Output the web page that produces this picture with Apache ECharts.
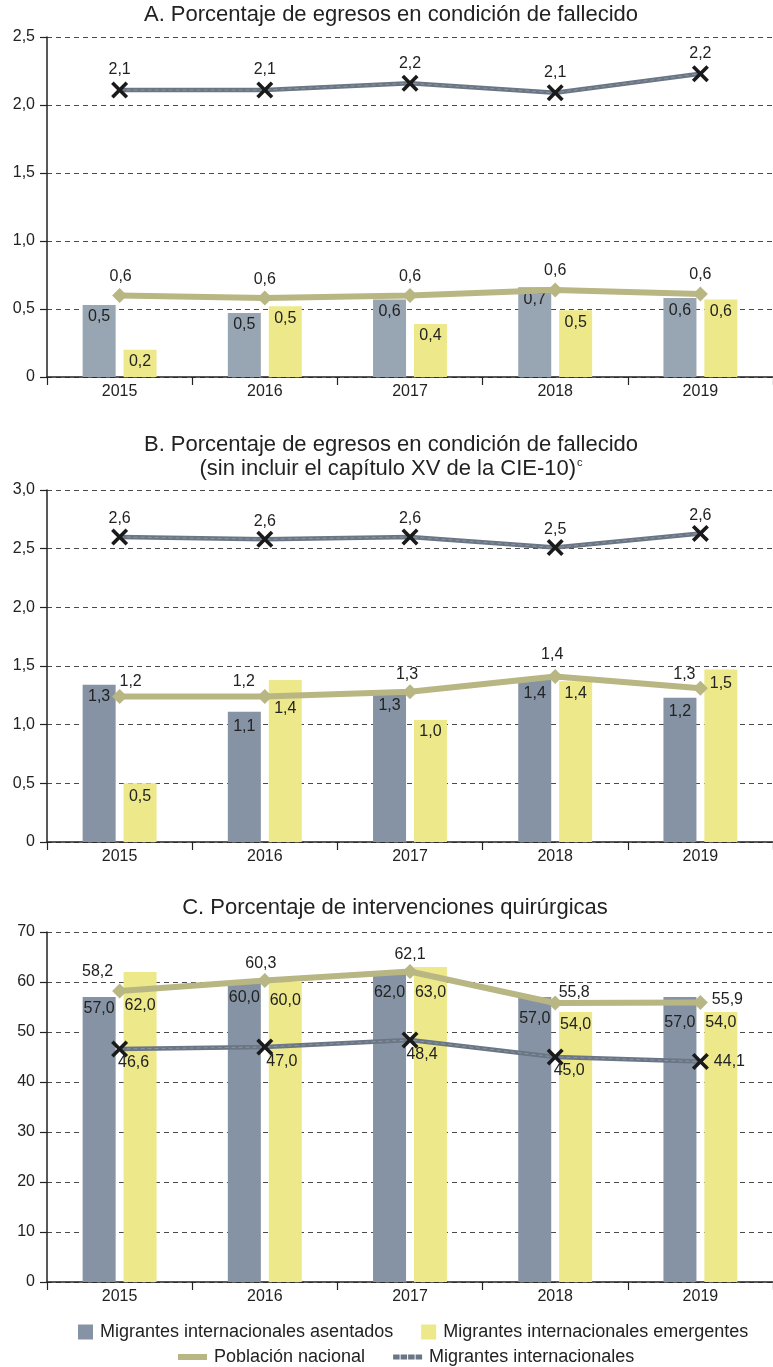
<!DOCTYPE html>
<html>
<head>
<meta charset="utf-8">
<script src="https://cdn.jsdelivr.net/npm/echarts@6.0.0/dist/echarts.min.js"></script>
<style>
html,body{margin:0;padding:0;background:#fff;}
#chart{width:773px;height:1367px;}
</style>
</head>
<body>
<div id="chart"></div>
<script>
// ---------- DATA ----------
var years = ['2015', '2016', '2017', '2018', '2019'];

var titleA = 'A. Porcentaje de egresos en condición de fallecido';
var titleB1 = 'B. Porcentaje de egresos en condición de fallecido';
var titleB2 = '(sin incluir el capítulo XV de la CIE-10)';
var titleC = 'C. Porcentaje de intervenciones quirúrgicas';

var nameAsentados = 'Migrantes internacionales asentados';
var nameEmergentes = 'Migrantes internacionales emergentes';
var namePoblacion = 'Población nacional';
var nameMigrantes = 'Migrantes internacionales';

// Panel A
var A_asentados = [0.53, 0.47, 0.57, 0.66, 0.58];
var A_emergentes = [0.20, 0.52, 0.39, 0.49, 0.57];
var A_poblacion = [0.60, 0.58, 0.60, 0.64, 0.61];
var A_migrantes = [2.11, 2.11, 2.16, 2.09, 2.23];
var A_ticks = [0, 0.5, 1.0, 1.5, 2.0, 2.5];

// Panel B
var B_asentados = [1.34, 1.11, 1.27, 1.39, 1.23];
var B_emergentes = [0.50, 1.38, 1.04, 1.37, 1.47];
var B_poblacion = [1.24, 1.24, 1.28, 1.41, 1.31];
var B_migrantes = [2.60, 2.58, 2.60, 2.51, 2.63];
var B_ticks = [0, 0.5, 1.0, 1.5, 2.0, 2.5, 3.0];

// Panel C
var C_asentados = [57.0, 60.0, 62.0, 57.0, 57.0];
var C_emergentes = [62.0, 60.0, 63.0, 54.0, 54.0];
var C_poblacion = [58.2, 60.3, 62.1, 55.8, 55.9];
var C_migrantes = [46.6, 47.0, 48.4, 45.0, 44.1];
var C_ticks = [0, 10, 20, 30, 40, 50, 60, 70];

// ---------- LAYOUT / STYLE ----------
var FONT = "'Liberation Sans', Arial, Helvetica, sans-serif";
var TXT = '#222222';
var YELLOW = '#ede889';
var OLIVE = '#b8b683';
var MIGR = '#6b7685';
var GRAY_A = '#98a5b3';
var GRAY_BC = '#8593a4';

var panels = [
  { top: 37, height: 340, ticks: A_ticks, tickDec: 1, gray: GRAY_A,
    asent: A_asentados, emerg: A_emergentes, pob: A_poblacion, mig: A_migrantes,
    drops: { g: [12, 12, 12, 12, 12], y: [12, 12, 12, 12, 12] },
    pobOff: [[1, -19], [0, -19], [0, -19], [0, -19], [0, -19]],
    migOff: [[0, -20], [0, -20], [0, -20], [0, -20], [0, -20]] },
  { top: 490, height: 352, ticks: B_ticks, tickDec: 1, gray: GRAY_BC,
    asent: B_asentados, emerg: B_emergentes, pob: B_poblacion, mig: B_migrantes,
    drops: { g: [12, 15, 13, 15, 14], y: [13, 29, 12, 12, 14] },
    pobOff: [[11, -15], [-21, -15], [-3, -17], [-3, -22], [-16, -14]],
    migOff: [[0, -18], [0, -18], [0, -18], [0, -18], [0, -18]] },
  { top: 932, height: 350, ticks: C_ticks, tickDec: 0, gray: GRAY_BC,
    asent: C_asentados, emerg: C_emergentes, pob: C_poblacion, mig: C_migrantes,
    drops: { g: [12, 16, 21, 22, 26], y: [34, 19, 26, 13, 11] },
    pobOff: [[-22, -19], [-4, -17], [0, -17], [19, -10], [27, -3]],
    migOff: [[14, 14], [17, 15], [12, 15], [14, 14], [29, 0]] }
];

function fmt(v, dec) {
  if (dec === undefined) dec = 1;
  if (v === 0) return '0';
  return v.toFixed(dec).replace('.', ',');
}

var X_PATH = 'path://M0,3L3,0L10,7L17,0L20,3L13,10L20,17L17,20L10,13L3,20L0,17L7,10Z';

var grids = [], xAxes = [], yAxes = [], series = [];

panels.forEach(function (p, i) {
  var tks = p.ticks;
  grids.push({ left: 47, top: p.top, width: 732, height: p.height, containLabel: false });
  xAxes.push({
    type: 'category', gridIndex: i, data: years, boundaryGap: true,
    axisLine: { show: true, lineStyle: { color: '#222', width: 1.5 } },
    axisTick: { show: true, interval: 0, length: 8, lineStyle: { color: '#222', width: 1.2 } },
    axisLabel: { show: true, color: TXT, fontFamily: FONT, fontSize: 16, margin: 7, interval: 0 },
    splitLine: { show: false }
  });
  yAxes.push({
    type: 'value', gridIndex: i, min: tks[0], max: tks[tks.length - 1],
    interval: tks[1] - tks[0],
    axisLine: { show: true, lineStyle: { color: '#222', width: 1.5 } },
    axisTick: { show: true, length: 7, lineStyle: { color: '#222', width: 1.2 } },
    axisLabel: { show: true, color: TXT, fontFamily: FONT, fontSize: 16, margin: 12,
      formatter: function (v) { return fmt(v, p.tickDec); } },
    splitLine: { show: true, lineStyle: { color: '#4a4a4a', width: 1, type: [5, 4] } }
  });

  var barLabel = { show: true, position: 'insideTop', color: TXT, fontFamily: FONT, fontSize: 16,
    lineHeight: 17, formatter: function (pp) { return fmt(pp.value); } };

  series.push({
    type: 'bar', name: nameAsentados, xAxisIndex: i, yAxisIndex: i,
    barWidth: 33, barGap: '24%',
    itemStyle: { color: p.gray },
    data: p.asent.map(function (v, k) {
      return { value: v, label: { distance: p.drops.g[k] - 8.5 } };
    }),
    label: barLabel, z: 2
  });
  series.push({
    type: 'bar', name: nameEmergentes, xAxisIndex: i, yAxisIndex: i,
    barWidth: 33, barGap: '24%',
    itemStyle: { color: YELLOW },
    data: p.emerg.map(function (v, k) {
      return { value: v, label: { distance: p.drops.y[k] - 8.5 } };
    }),
    label: barLabel, z: 2
  });
  series.push({
    type: 'line', name: namePoblacion, xAxisIndex: i, yAxisIndex: i,
    symbol: 'diamond', symbolSize: 15, showSymbol: true,
    lineStyle: { color: OLIVE, width: 6 },
    itemStyle: { color: OLIVE, borderWidth: 0 },
    label: { show: true, position: 'inside', color: TXT, fontFamily: FONT, fontSize: 16,
      formatter: function (pp) { return fmt(pp.value); } },
    data: p.pob.map(function (v, k) {
      return { value: v, label: { offset: p.pobOff[k] } };
    }),
    z: 3, animation: false
  });
  series.push({
    type: 'line', name: nameMigrantes, xAxisIndex: i, yAxisIndex: i,
    symbol: 'none', lineStyle: { color: MIGR, width: 4.5 },
    itemStyle: { color: MIGR },
    data: p.mig.slice(), z: 4, animation: false
  });
  series.push({
    type: 'line', name: 'mig-dash-' + i, xAxisIndex: i, yAxisIndex: i,
    symbol: 'none', silent: true,
    lineStyle: { color: '#8a95a3', width: 1, type: [4, 3] },
    data: p.mig.slice(), z: 4, animation: false
  });
  series.push({
    type: 'line', name: 'mig-mark-' + i, xAxisIndex: i, yAxisIndex: i,
    symbol: X_PATH, symbolSize: 17, showSymbol: true,
    lineStyle: { width: 0, opacity: 0 },
    itemStyle: { color: '#1a1a1a', borderWidth: 0 },
    label: { show: true, position: 'inside', color: TXT, fontFamily: FONT, fontSize: 16,
      formatter: function (pp) { return fmt(pp.value); } },
    data: p.mig.map(function (v, k) {
      return { value: v, label: { offset: p.migOff[k] } };
    }),
    z: 5, animation: false
  });
});

var titleStyle = { color: TXT, fontFamily: FONT, fontSize: 22, fontWeight: 'normal' };

var option = {
  animation: false,
  backgroundColor: '#ffffff',
  textStyle: { fontFamily: FONT },
  title: [
    { text: titleA, left: 391, top: 4, textAlign: 'center', textStyle: titleStyle, padding: 0 },
    { text: titleB1 + '\n' + titleB2 + '{sup|c}', left: 391, top: 433, textAlign: 'center', padding: 0,
      textStyle: Object.assign({}, titleStyle, { lineHeight: 24,
        rich: { sup: { fontSize: 11, color: TXT, fontFamily: FONT, verticalAlign: 'top', lineHeight: 24, padding: [0, 0, 8, 1] } } }) },
    { text: titleC, left: 395, top: 897, textAlign: 'center', textStyle: titleStyle, padding: 0 }
  ],
  grid: grids,
  xAxis: xAxes,
  yAxis: yAxes,
  legend: [
    { left: 78, top: 1323, orient: 'horizontal', itemWidth: 15, itemHeight: 15, itemGap: 28, padding: 0,
      selectedMode: false,
      textStyle: { color: TXT, fontFamily: FONT, fontSize: 18, padding: [0, 0, 0, 2] },
      data: [
        { name: nameAsentados, icon: 'rect', itemStyle: { color: GRAY_BC, borderWidth: 0 } },
        { name: nameEmergentes, icon: 'rect', itemStyle: { color: YELLOW, borderWidth: 0 } }
      ] },
    { left: 178, top: 1348, orient: 'horizontal', itemWidth: 29, itemHeight: 6, itemGap: 28, padding: 0,
      selectedMode: false,
      textStyle: { color: TXT, fontFamily: FONT, fontSize: 18, padding: [0, 0, 0, 2] },
      data: [
        { name: namePoblacion, icon: 'rect', itemStyle: { color: OLIVE, borderWidth: 0 } },
        { name: nameMigrantes, icon: 'path://M0,0h6.5v5h-6.5zM7.5,0h6.5v5h-6.5zM15,0h6.5v5h-6.5zM22.5,0h6.5v5h-6.5z',
          itemStyle: { color: MIGR, borderWidth: 0 } }
      ] }
  ],
  series: series
};

var chart = echarts.init(document.getElementById('chart'), null, { renderer: 'canvas' });
chart.setOption(option);
</script>
</body>
</html>
